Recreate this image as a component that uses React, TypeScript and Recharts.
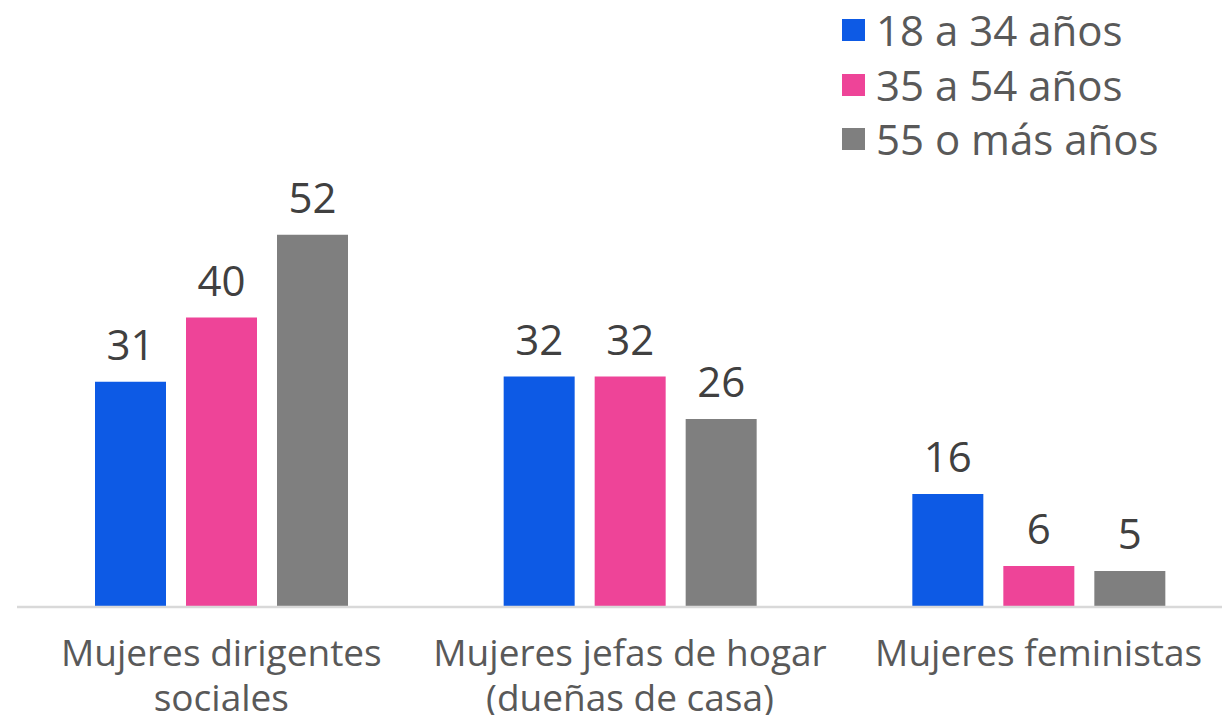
import React from "react";
import { BarChart, Bar, XAxis, YAxis, LabelList } from "recharts";

const categories = [
  "Mujeres dirigentes\nsociales",
  "Mujeres jefas de hogar\n(dueñas de casa)",
  "Mujeres feministas",
];
const seriesNames = ["18 a 34 años", "35 a 54 años", "55 o más años"];
const age18to34 = [31.3, 32.0, 15.7];
const age35to54 = [40.2, 32.0, 5.7];
const age55plus = [51.7, 26.1, 5.0];
const colors = ["#0d5ae5", "#ee4498", "#7f7f7f"];

const data = categories.map((c, i) => ({
  name: c,
  a: age18to34[i],
  b: age35to54[i],
  c: age55plus[i],
}));

const FONT = "'Open Sans', sans-serif";

const Tick = (props: any) => {
  const { x, y, payload } = props;
  const lines = String(payload.value).split("\n");
  return (
    <text x={x} y={y} textAnchor="middle" fill="#595959" fontSize={37} fontFamily={FONT}>
      {lines.map((l, i) => (
        <tspan key={i} x={x} dy={i === 0 ? 59 : 45}>
          {l}
        </tspan>
      ))}
    </text>
  );
};

const keys = ["a", "b", "c"];

export default function App() {
  return (
    <div style={{ width: 1222, height: 715, overflow: "hidden", position: "relative", background: "#fff" }}>
      <style>{"body{margin:0;}"}</style>
      <BarChart
        width={1243}
        height={715}
        data={data}
        margin={{ top: 175, right: 0, bottom: 0, left: 17 }}
        barSize={71}
        barGap={20}
      >
        <XAxis
          dataKey="name"
          axisLine={{ stroke: "#d9d9d9", strokeWidth: 2.5 }}
          tickLine={false}
          tickSize={0}
          tickMargin={0}
          height={108}
          interval={0}
          tick={<Tick />}
        />
        <YAxis hide domain={[0, 60]} />
        {keys.map((k, i) => (
          <Bar key={k} dataKey={k} name={seriesNames[i]} fill={colors[i]} isAnimationActive={false}>
            <LabelList
              dataKey={k}
              position="top"
              offset={22}
              formatter={(v: any) => Math.round(v)}
              fill="#404040"
              fontSize={42}
              fontFamily={FONT}
            />
          </Bar>
        ))}
      </BarChart>
      <div style={{ position: "absolute", top: 3, left: 842, fontFamily: FONT }}>
        {seriesNames.map((n, i) => (
          <div key={n} style={{ display: "flex", alignItems: "center", height: 54.5 }}>
            <div style={{ width: 23, height: 22, background: colors[i], marginRight: 11 }} />
            <span style={{ fontSize: 42, color: "#595959", lineHeight: "54px", whiteSpace: "nowrap" }}>{n}</span>
          </div>
        ))}
      </div>
    </div>
  );
}
